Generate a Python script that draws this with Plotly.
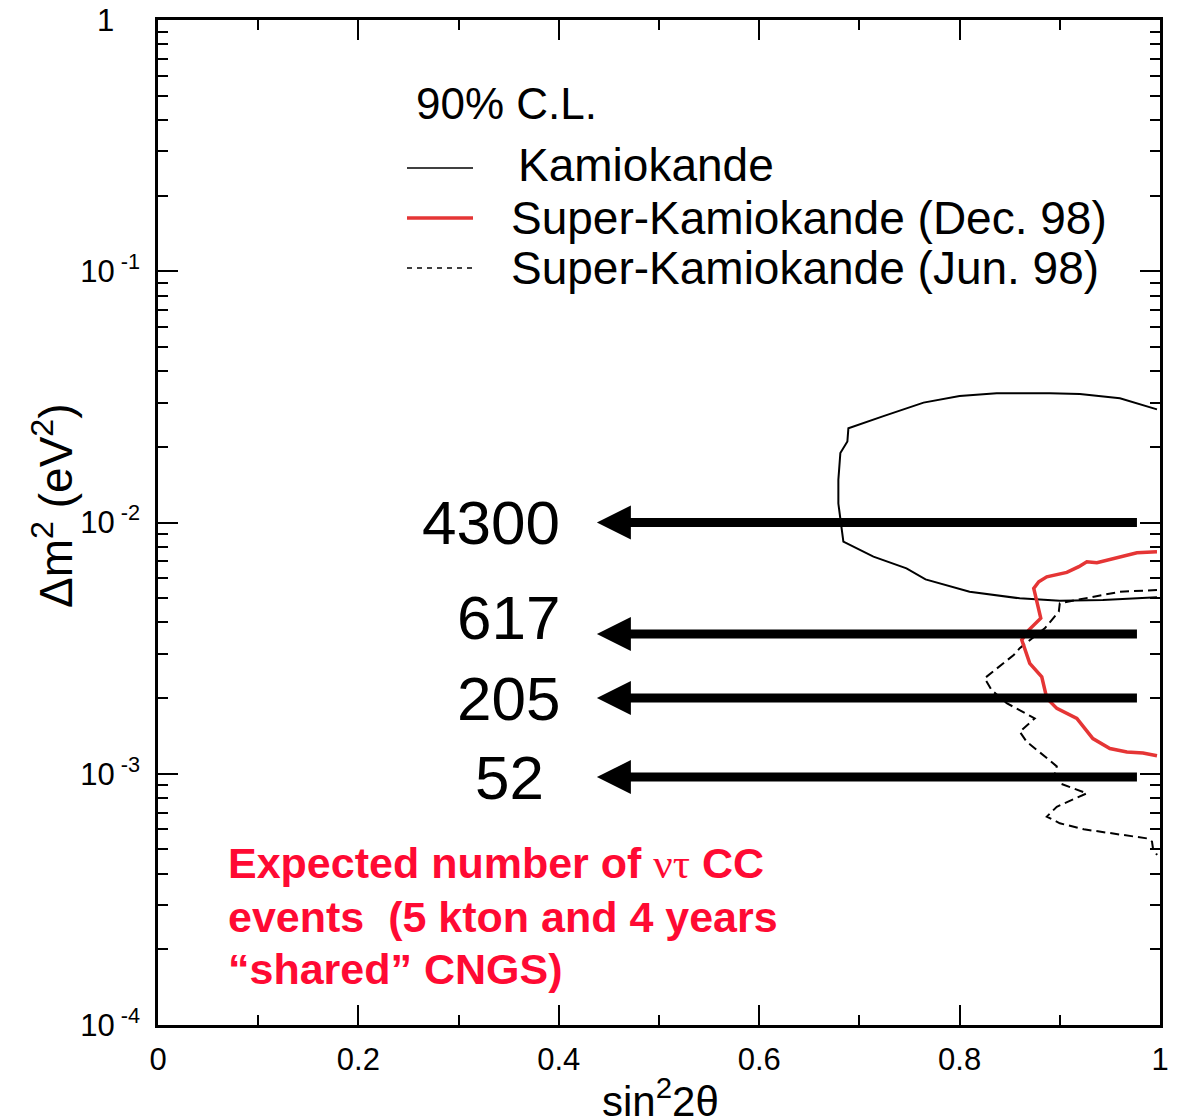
import math
import plotly.graph_objects as go

# ---------------- data ----------------
# Kamiokande 90% C.L. contour (sin^2 2theta, delta m^2 [eV^2])
kam_sin2 = [0.997, 0.960, 0.920, 0.890, 0.837, 0.800, 0.764, 0.731, 0.724, 0.689, 0.688,
            0.681, 0.679, 0.679, 0.684, 0.714, 0.747, 0.766, 0.810, 0.860, 0.900, 0.943, 0.997]
kam_dm2 = [0.0282, 0.0312, 0.0325, 0.0327, 0.0327, 0.0319, 0.0300, 0.0272, 0.0265, 0.0237, 0.0210,
           0.0189, 0.0148, 0.0119, 0.00839, 0.00731, 0.00657, 0.00594, 0.00530, 0.00499, 0.00488,
           0.00492, 0.00504]

# Super-Kamiokande (Dec. 98)
skdec_sin2 = [0.997, 0.977, 0.937, 0.927, 0.919, 0.907, 0.887, 0.879, 0.874, 0.881, 0.869,
              0.862, 0.870, 0.882, 0.887, 0.897, 0.917, 0.933, 0.950, 0.967, 0.983, 0.997]
skdec_dm2 = [0.00765, 0.00758, 0.00692, 0.00698, 0.00667, 0.00633, 0.00608, 0.00581, 0.00547,
             0.00416, 0.00373, 0.00341, 0.00275, 0.00243, 0.00200, 0.00182, 0.00166, 0.00138,
             0.00126, 0.00122, 0.00121, 0.00118]

# Super-Kamiokande (Jun. 98)
skjun_sin2 = [0.997, 0.960, 0.917, 0.900, 0.899, 0.885, 0.860, 0.854, 0.825, 0.832, 0.847,
              0.875, 0.860, 0.867, 0.890, 0.897, 0.895, 0.900, 0.927, 0.897, 0.887, 0.900,
              0.924, 0.987, 0.992, 0.993, 0.997]
skjun_dm2 = [0.00539, 0.00530, 0.00492, 0.00477, 0.00442, 0.00379, 0.00316, 0.00297, 0.00240,
             0.00215, 0.00191, 0.00166, 0.00147, 0.00134, 0.00113, 0.00107, 0.00100, 0.000916,
             0.000836, 0.000739, 0.000675, 0.000635, 0.000601, 0.000553, 0.000537, 0.000505,
             0.000475]

# expected number of nu_tau CC events at given delta m^2
arrow_dm2 = [0.01, 0.0036, 0.002, 0.00097]
arrow_labels = ["4300", "617", "205", "52"]
arrow_tail = 0.977
arrow_tip = 0.438

NB = "\u00a0"
y_tickvals = [1e-4, 1e-3, 1e-2, 1e-1, 1]
y_ticktext = ["10<sup>" + NB + "-4</sup>", "10<sup>" + NB + "-3</sup>", "10<sup>" + NB + "-2</sup>",
              "10<sup>" + NB + "-1</sup>", "1" + NB * 3]
x_tickvals = [0, 0.2, 0.4, 0.6, 0.8, 1]
x_ticktext = ["0", "0.2", "0.4", "0.6", "0.8", "1"]

legend_title = "90% C.L."
legend_names = ["Kamiokande", "Super-Kamiokande (Dec. 98)", "Super-Kamiokande (Jun. 98)"]

note_lines = [
    "<b>Expected number of <span style=\"font-family:Liberation Serif;font-weight:normal\">ντ</span> CC</b>",
    "<b>events  (5 kton and 4 years</b>",
    "<b>“shared” CNGS)</b>",
]

# ---------------- layout helpers (screen pixels -> paper coords) ----------------
OFF = 8                      # default page body margin
W, H = 1180 - OFF, 1117 - OFF
PL, PR, PT, PB = 158, 1160, 20, 1025   # plot frame in screen pixels
L, T = PL - OFF, PT - OFF
R, B = W - (PR - OFF), H - (PB - OFF)
PW, PH = PR - PL, PB - PT


def px(xs):
    return (xs - PL) / PW


def py(ys):
    return (PB - ys) / PH


FONT = "Liberation Sans, Arial, sans-serif"
RED_LINE = "#e53535"
RED_TEXT = "#ff0a33"

fig = go.Figure()

fig.add_trace(go.Scatter(x=kam_sin2, y=kam_dm2, mode="lines",
                         line=dict(color="black", width=2), showlegend=False))
fig.add_trace(go.Scatter(x=skjun_sin2, y=skjun_dm2, mode="lines",
                         line=dict(color="black", width=2, dash="9px,5px"), showlegend=False))
fig.add_trace(go.Scatter(x=skdec_sin2, y=skdec_dm2, mode="lines",
                         line=dict(color=RED_LINE, width=3.5), showlegend=False))

head_len = 34 / PW
for lvl in arrow_dm2:
    fig.add_trace(go.Scatter(x=[arrow_tail, arrow_tip + head_len * 0.8], y=[lvl, lvl], mode="lines",
                             line=dict(color="black", width=9), showlegend=False))
    fig.add_trace(go.Scatter(x=[arrow_tip], y=[lvl], mode="markers",
                             marker=dict(symbol="arrow-left", size=34, color="black",
                                         line=dict(width=0)),
                             showlegend=False))

annotations = []
label_x = [px(562), px(562), px(562), px(546)]
label_shift = [0, 16, 0, 0]
for lbl, lvl, lx, sh in zip(arrow_labels, arrow_dm2, label_x, label_shift):
    annotations.append(dict(x=lx, y=math.log10(lvl), xref="paper", yref="y", yanchor="middle",
                            xanchor="right", text=lbl, showarrow=False, yshift=sh,
                            font=dict(family=FONT, size=62, color="black")))

# legend (drawn manually)
annotations.append(dict(x=px(414), y=py(104), xref="paper", yref="paper", xanchor="left",
                        yanchor="middle", text=legend_title, showarrow=False,
                        font=dict(family=FONT, size=44, color="black")))
leg_y = [165, 218, 268]
leg_tx = [516, 509, 509]
for name, ly, tx in zip(legend_names, leg_y, leg_tx):
    annotations.append(dict(x=px(tx), y=py(ly), xref="paper", yref="paper", xanchor="left",
                            yanchor="middle", text=name, showarrow=False,
                            font=dict(family=FONT, size=46, color="black")))

shapes = [
    dict(type="line", xref="paper", yref="paper", x0=px(407), x1=px(473), y0=py(168), y1=py(168),
         line=dict(color="black", width=1.5)),
    dict(type="line", xref="paper", yref="paper", x0=px(407), x1=px(473), y0=py(218), y1=py(218),
         line=dict(color=RED_LINE, width=3.5)),
    dict(type="line", xref="paper", yref="paper", x0=px(407), x1=px(473), y0=py(268), y1=py(268),
         line=dict(color="black", width=1.5, dash="5px,5px")),
]

# red note, one annotation per line
note_y = [863, 917, 969]
for line, ny in zip(note_lines, note_y):
    annotations.append(dict(x=px(226), y=py(ny), xref="paper", yref="paper", xanchor="left",
                            yanchor="middle", align="left", text=line, showarrow=False,
                            font=dict(family=FONT, size=43, color=RED_TEXT)))

# axis titles
annotations.append(dict(x=px(660), y=py(1098), xref="paper", yref="paper", xanchor="center",
                        yanchor="middle", text="sin<sup>2</sup>2θ", showarrow=False,
                        font=dict(family=FONT, size=42, color="black")))
annotations.append(dict(x=px(53), y=py(506), xref="paper", yref="paper", xanchor="center",
                        yanchor="middle", text="Δm<sup>2</sup> (eV<sup>2</sup>)", textangle=-90,
                        showarrow=False, font=dict(family=FONT, size=46, color="black")))

y_minor = [m * 10 ** e for e in range(-4, 0) for m in range(2, 10)]

fig.update_layout(
    width=W, height=H,
    margin=dict(l=L, r=R, t=T, b=B, autoexpand=False),
    paper_bgcolor="white", plot_bgcolor="white",
    showlegend=False,
    annotations=annotations,
    shapes=shapes,
    xaxis=dict(range=[0, 1], tickvals=x_tickvals, ticktext=x_ticktext,
               ticks="inside", ticklen=20, tickwidth=2, tickcolor="black",
               showline=True, linewidth=2.5, linecolor="black", mirror="allticks",
               showgrid=False, zeroline=False, ticklabelstandoff=5,
               ticklabeloverflow="allow",
               tickfont=dict(family=FONT, size=31, color="black"),
               minor=dict(tickvals=[0.1, 0.3, 0.5, 0.7, 0.9], ticks="inside", ticklen=10,
                          tickwidth=2, tickcolor="black", showgrid=False)),
    yaxis=dict(type="log", range=[-4, 0], tickvals=y_tickvals, ticktext=y_ticktext,
               ticks="inside", ticklen=20, tickwidth=2, tickcolor="black",
               showline=True, linewidth=2.5, linecolor="black", mirror="allticks",
               showgrid=False, zeroline=False, ticklabelstandoff=9,
               ticklabeloverflow="allow",
               tickfont=dict(family=FONT, size=31, color="black"),
               minor=dict(tickvals=y_minor, ticks="inside", ticklen=10,
                          tickwidth=2, tickcolor="black", showgrid=False)),
)

fig.write_html("out.html")
